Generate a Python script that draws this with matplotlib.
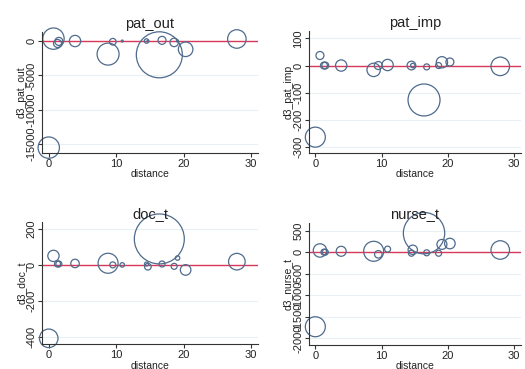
import matplotlib
matplotlib.use("Agg")
import matplotlib.pyplot as plt
import numpy as np

plt.rcParams['font.family'] = ['Liberation Sans', 'DejaVu Sans']

# distance of each unit (same across the four panels)
distance = [0.0, 0.7, 1.3, 1.5, 3.9, 8.8, 9.5, 10.9, 14.5, 14.7, 16.4, 16.8, 18.6, 19.1, 20.3, 27.9]

# d3 values per panel
d3_pat_out = [-15500, 350, -350, -50, 0, -1900, -100, 0, 0, 0, -2000, 100, -200, 0, -1200, 300]
d3_pat_imp = [-264, 37, 0, 0, 0, -16, 0, 2, 0, 0, -127, -5, 0, 12, 13, -3]
d3_doc_t = [-407, 50, 5, 5, 8, 9, 0, 0, 5, -10, 144, 5, -8, 38, -28, 18]
d3_nurse_t = [-1730, 39, 0, 0, 20, 20, -50, 70, -25, 55, 440, -15, -25, 180, 200, 50]

# bubble weights per panel
w_pat_out = [114, 114, 16, 16, 32, 121, 11, 1, 5, 0.7, 530, 16, 18, 1, 53, 86]
w_pat_imp = [100, 16, 12, 12, 32, 45, 16, 32, 19, 5, 256, 9, 9, 32, 16, 86]
w_doc_t = [86, 32, 9, 9, 18, 100, 9, 5, 4, 11, 625, 9, 9, 5, 28, 69]
w_nurse_t = [100, 45, 9, 9, 25, 100, 14, 9, 9, 22, 428, 9, 9, 25, 28, 86]

panels = [
    ("pat_out", "d3_pat_out", d3_pat_out, w_pat_out, (-16300, 1300), [0, -5000, -10000, -15000],
     [0.080, 0.585, 0.411, 0.328]),
    ("pat_imp", "d3_pat_imp", d3_pat_imp, w_pat_imp, (-323, 126), [100, 0, -100, -200, -300],
     [0.588, 0.585, 0.404, 0.330]),
    ("doc_t", "d3_doc_t", d3_doc_t, w_doc_t, (-440, 237), [200, 0, -200, -400],
     [0.080, 0.067, 0.411, 0.331]),
    ("nurse_t", "d3_nurse_t", d3_nurse_t, w_nurse_t, (-2154, 679), [500, 0, -500, -1000, -1500, -2000],
     [0.588, 0.065, 0.404, 0.331]),
]

fig = plt.figure(figsize=(5.25, 3.69), dpi=100)

for title, ylab, y, w, ylim, yticks, rect in panels:
    ax = fig.add_axes(rect)
    # faint grid at the y ticks + the zero line
    for t in yticks:
        ax.axhline(t, color='#e8eff5', lw=0.8, zorder=0)
    ax.axhline(0, color='#d8395a', lw=1.0, zorder=1)
    s = np.array(w) * 2.07
    ax.scatter(distance, y, s=s, facecolors='none', edgecolors='#4f6b8c',
               linewidths=0.9, zorder=2, clip_on=False)
    ax.set_xlim(-1, 31)
    ax.set_ylim(*ylim)
    ax.set_xticks([0, 10, 20, 30])
    ax.set_yticks(yticks)
    ax.set_yticklabels([str(t) for t in yticks], rotation=90, va='center')
    ax.tick_params(labelsize=8, length=3, width=0.8, pad=1, colors='#333333',
                   labelcolor='#222222')
    for side in ('top', 'right'):
        ax.spines[side].set_visible(False)
    for side in ('left', 'bottom'):
        ax.spines[side].set_color('#333333')
        ax.spines[side].set_linewidth(0.8)
    ax.set_xlabel('distance', fontsize=7.5, labelpad=0.5, color='#222222')
    ax.set_ylabel(ylab, fontsize=7.5, labelpad=0, color='#222222')
    ax.set_title(title, fontsize=10.5, pad=3, color='#222222')

fig.savefig('out.png', dpi=100)
